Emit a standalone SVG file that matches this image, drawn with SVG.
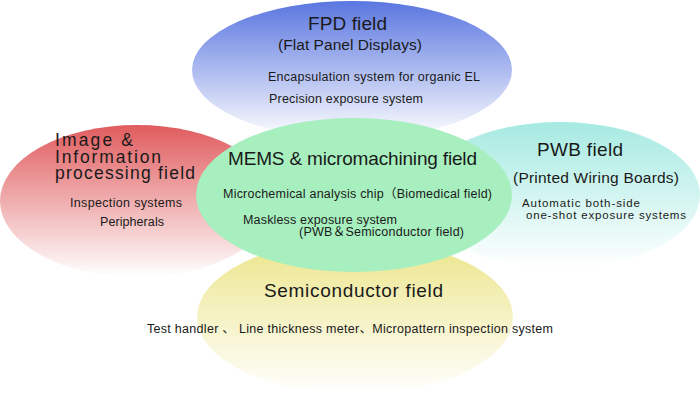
<svg xmlns="http://www.w3.org/2000/svg" width="700" height="400" viewBox="0 0 700 400">
<defs>
<linearGradient id="gBlue" x1="0" y1="0" x2="0" y2="1"><stop offset="0" stop-color="#5a76e0"/><stop offset="1" stop-color="#ffffff"/></linearGradient>
<linearGradient id="gRed" x1="0" y1="0" x2="0" y2="1"><stop offset="0" stop-color="#e05c5e"/><stop offset="1" stop-color="#ffffff"/></linearGradient>
<linearGradient id="gCyan" x1="0" y1="0" x2="0" y2="1"><stop offset="0" stop-color="#a6eae2"/><stop offset="1" stop-color="#ffffff"/></linearGradient>
<linearGradient id="gYellow" x1="0" y1="0" x2="0" y2="1"><stop offset="0" stop-color="#ece58a"/><stop offset="1" stop-color="#ffffff"/></linearGradient>
<style>
text{font-family:"Liberation Sans","Noto Sans CJK JP",sans-serif;fill:#1a1a1a}
.t{font-size:19px}
.h{font-size:17.5px}
.s{font-size:15.5px}
.b{font-size:12.5px}
.c{font-size:11.5px}
</style>
</defs>
<rect width="700" height="400" fill="#ffffff"/>
<g id="semiconductor">
<ellipse cx="355" cy="317" rx="158" ry="77" fill="url(#gYellow)"/>
<text class="t" x="264" y="297" textLength="179">Semiconductor field</text>
<text class="b" x="147" y="333" textLength="406">Test handler 、 Line thickness meter、Micropattern inspection system</text>
</g>
<g id="fpd">
<ellipse cx="352" cy="70" rx="160" ry="69" fill="url(#gBlue)"/>
<text class="t" x="308" y="30" textLength="79">FPD field</text>
<text class="s" x="278" y="50" textLength="144">(Flat Panel Displays)</text>
<text class="b" x="268" y="81" textLength="212">Encapsulation system for organic EL</text>
<text class="b" x="269" y="103" textLength="154">Precision exposure system</text>
</g>
<g id="image">
<ellipse cx="137" cy="201" rx="137" ry="76" fill="url(#gRed)"/>
<text class="h" x="55" y="146" textLength="78">Image &amp;</text>
<text class="h" x="55" y="163" textLength="106">Information</text>
<text class="h" x="55" y="179" textLength="140">processing field</text>
<text class="b" x="70" y="207" textLength="112">Inspection systems</text>
<text class="b" x="100" y="226" textLength="64">Peripherals</text>
</g>
<g id="pwb">
<ellipse cx="560" cy="195" rx="140" ry="73" fill="url(#gCyan)"/>
<text class="t" x="537" y="156" textLength="86">PWB field</text>
<text class="s" x="513" y="183" textLength="166">(Printed Wiring Boards)</text>
<text class="c" x="522" y="207" textLength="118">Automatic both-side</text>
<text class="c" x="526" y="219" textLength="160">one-shot exposure systems</text>
</g>
<g id="mems">
<ellipse cx="354" cy="195" rx="158" ry="77" fill="#a8efbf"/>
<text class="t" x="228" y="165" textLength="249">MEMS &amp; micromachining field</text>
<text class="b" x="223" y="198" textLength="269">Microchemical analysis chip（Biomedical field)</text>
<text class="b" x="243" y="224" textLength="154">Maskless exposure system</text>
<text class="b" x="299" y="236" textLength="165">(PWB＆Semiconductor field)</text>
</g>
<g id="connectors"/>
</svg>
